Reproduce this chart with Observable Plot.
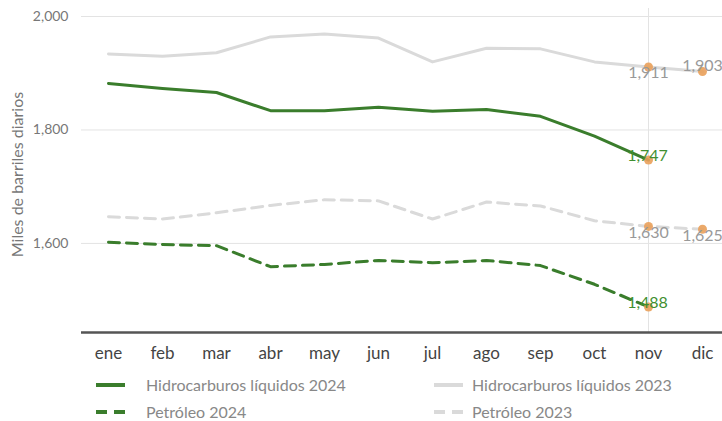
<!DOCTYPE html>
<html><head><meta charset="utf-8">
<script src="https://cdn.jsdelivr.net/npm/d3@7"></script>
<script src="https://cdn.jsdelivr.net/npm/@observablehq/plot@0.6"></script>
<style>
body{margin:0;background:#fff;font-family:Lato,"Open Sans",sans-serif;}
#wrap{position:relative;width:722px;height:421px;}
.lg{position:absolute;font-size:16px;color:#888;display:flex;align-items:center;}
</style>
</head><body><div id="wrap"><div id="chart"></div></div>
<script>
const months = ["ene","feb","mar","abr","may","jun","jul","ago","sep","oct","nov","dic"];
const liq2024 = [1882, 1873, 1866, 1834, 1834, 1840, 1833, 1836, 1824, 1789, 1747];
const liq2023 = [1934, 1930, 1936, 1964, 1969, 1962, 1920, 1944, 1943, 1920, 1911, 1903];
const pet2024 = [1602, 1598, 1596, 1559, 1563, 1570, 1566, 1570, 1561, 1528, 1488];
const pet2023 = [1647, 1643, 1654, 1667, 1677, 1675, 1643, 1673, 1666, 1640, 1630, 1625];
const yTicks = [1600, 1800, 2000];
const yDomain = [1443, 2000];
const seriesNames = ["Hidrocarburos líquidos 2024","Hidrocarburos líquidos 2023","Petróleo 2024","Petróleo 2023"];

const GREEN = "#3a7d2c", GRAY = "#dadada";
const toRows = (vals, name) => vals.map((v,i)=>({month:months[i], value:v, series:name}));
const L24 = toRows(liq2024, seriesNames[0]);
const L23 = toRows(liq2023, seriesNames[1]);
const P24 = toRows(pet2024, seriesNames[2]);
const P23 = toRows(pet2023, seriesNames[3]);
const lastPoints = [L24.slice(-1), L23.slice(-2), P24.slice(-1), P23.slice(-2)].flat();
const fmt = d3.format(",");

const chart = Plot.plot({
  width: 722, height: 368,
  marginTop: 16, marginBottom: 36, marginLeft: 81, marginRight: 0,
  style: {fontFamily: "Lato, 'Open Sans', sans-serif", background: "#fff"},
  x: {type: "point", domain: months, range: [106, 704], padding: 0, label: null},
  y: {domain: yDomain, label: null},
  marks: [
    Plot.ruleY(yTicks, {stroke: "#e3e3e3", strokeWidth: 1}),
    Plot.ruleX(["nov"], {stroke: "#e3e3e3", strokeWidth: 1, insetTop: -8}),
    Plot.ruleY([yDomain[0]], {stroke: "#555", strokeWidth: 2.5}),
    Plot.axisY({ticks: yTicks, tickFormat: fmt, tickSize: 0, tickPadding: 13, fontSize: 14, color: "#777", label: null}),
    Plot.axisX({tickSize: 0, tickPadding: 14, fontSize: 17, color: "#444", label: null}),
    Plot.text(["Miles de barriles diarios"], {frameAnchor: "left", textAnchor: "middle", rotate: -90, dx: -64, fontSize: 16, fill: "#777"}),
    Plot.line(L23, {x: "month", y: "value", stroke: GRAY, strokeWidth: 3}),
    Plot.line(P23, {x: "month", y: "value", stroke: GRAY, strokeWidth: 3, strokeDasharray: "11,7"}),
    Plot.line(L24, {x: "month", y: "value", stroke: GREEN, strokeWidth: 3}),
    Plot.line(P24, {x: "month", y: "value", stroke: GREEN, strokeWidth: 3, strokeDasharray: "11,7"}),
    Plot.dot(lastPoints, {x: "month", y: "value", r: 4.5, fill: "#e9a05a", fillOpacity: 0.9}),
    Plot.text([...L24.slice(-1), ...P24.slice(-1)], {x: "month", y: "value", text: d => fmt(d.value), fill: "#3f8f30", fontSize: 16, lineAnchor: "bottom", dx: -1, dy: 1}),
    Plot.text([L23[10], P23[10], P23[11]], {x: "month", y: "value", text: d => fmt(d.value), fill: "#999", fontSize: 16, lineAnchor: "top", dy: 0}),
    Plot.text([L23[11]], {x: "month", y: "value", text: d => fmt(d.value), fill: "#999", fontSize: 16, lineAnchor: "bottom", dy: -1})
  ]
});
document.getElementById("chart").appendChild(chart);

const legendItems = [
  {name: seriesNames[0], color: GREEN, dash: null, left: 96, top: 375, gap: 21},
  {name: seriesNames[1], color: GRAY, dash: null, left: 434, top: 375, gap: 9},
  {name: seriesNames[2], color: GREEN, dash: "11,7", left: 96, top: 402, gap: 21},
  {name: seriesNames[3], color: GRAY, dash: "11,7", left: 434, top: 402, gap: 9}
];
const wrap = document.getElementById("wrap");
legendItems.forEach(it => {
  const div = document.createElement("div");
  div.className = "lg";
  div.style.left = it.left + "px";
  div.style.top = it.top + "px";
  div.innerHTML = `<svg width="29" height="18" style="margin-right:${it.gap}px"><line x1="0" x2="29" y1="9" y2="9" stroke="${it.color}" stroke-width="4" ${it.dash ? `stroke-dasharray="11,7"` : ""}/></svg><span>${it.name}</span>`;
  wrap.appendChild(div);
});
</script></body></html>
